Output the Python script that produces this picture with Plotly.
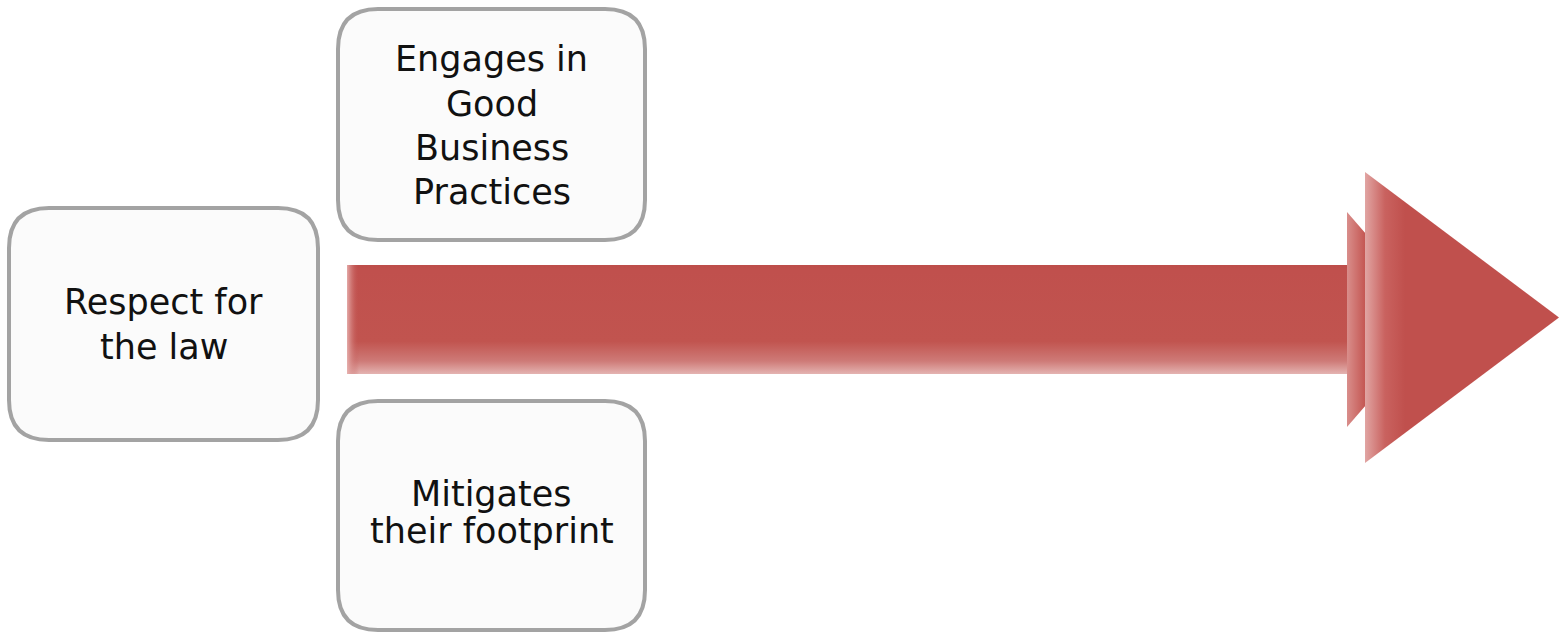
import plotly.graph_objects as go

# ---- content ----
box_lines = [
    ["Respect for", "the law"],
    ["Engages in", "Good", "Business", "Practices"],
    ["Mitigates", "their footprint"],
]

# ---- layout geometry (pixel space, y downward) ----
W, H = 1559, 633
boxes = [  # x0, y0, x1, y1
    (9, 208, 318, 440),
    (338, 9, 645, 240),
    (338, 401, 645, 630),
]
first_baseline = [315, 72, 507]
line_gap = [45, 44.3, 37]
RADIUS = 40
FONT_SIZE = 35
shaft = (347, 265, 1352, 374)
small_head = (1347, 212, 1440, 427)   # left x, top y, tip x, bottom y
big_head = (1365, 172, 1559, 463)

RED = "#C0504D"
BOX_FILL = "#FBFBFB"
BOX_LINE = "#A3A3A3"


def rounded_rect(x0, y0, x1, y1, r):
    return (f"M {x0+r},{y0} L {x1-r},{y0} Q {x1},{y0} {x1},{y0+r} "
            f"L {x1},{y1-r} Q {x1},{y1} {x1-r},{y1} L {x0+r},{y1} "
            f"Q {x0},{y1} {x0},{y1-r} L {x0},{y0+r} Q {x0},{y0} {x0+r},{y0} Z")


fig = go.Figure()

# arrow shaft with fading bottom edge
sx0, sy0, sx1, sy1 = shaft
fig.add_trace(go.Scatter(
    x=[sx0, sx1, sx1, sx0, sx0], y=[sy0, sy0, sy1, sy1, sy0],
    mode="lines", line=dict(width=0), fill="toself",
    fillgradient=dict(type="vertical", start=sy0, stop=sy1,
                      colorscale=[[0, "#BD4D4A"], [0.05, "#C0504D"], [0.7, "#C1544F"],
                                  [0.88, "#CE7A77"], [1, "#E4B3B1"]]),
    hoverinfo="skip", showlegend=False))
# light left edge of shaft
fig.add_trace(go.Scatter(
    x=[sx0, sx0 + 12, sx0 + 12, sx0, sx0], y=[sy0, sy0, sy1, sy1, sy0],
    mode="lines", line=dict(width=0), fill="toself",
    fillgradient=dict(type="horizontal", start=sx0, stop=sx0 + 12,
                      colorscale=[[0, "rgba(232,180,178,0.9)"], [1, "rgba(192,80,77,0)"]]),
    hoverinfo="skip", showlegend=False))

# small (rear) arrowhead
hx0, hy0, hx1, hy1 = small_head
hm = (hy0 + hy1) / 2
fig.add_trace(go.Scatter(
    x=[hx0, hx1, hx0, hx0], y=[hy0, hm, hy1, hy0],
    mode="lines", line=dict(width=0), fill="toself",
    fillgradient=dict(type="horizontal", start=hx0, stop=hx0 + 18,
                      colorscale=[[0, "#D98E8B"], [1, "#C45753"]]),
    hoverinfo="skip", showlegend=False))

# big arrowhead
bx0, by0, bx1, by1 = big_head
bm = (by0 + by1) / 2
fig.add_trace(go.Scatter(
    x=[bx0, bx1, bx0, bx0], y=[by0, bm, by1, by0],
    mode="lines", line=dict(width=0), fill="toself",
    fillgradient=dict(type="horizontal", start=bx0, stop=bx0 + 40,
                      colorscale=[[0, "#E1A5A3"], [0.5, "#C9625F"], [1, "#C0504D"]]),
    hoverinfo="skip", showlegend=False))

shapes = []
for (x0, y0, x1, y1) in boxes:
    shapes.append(dict(type="path", path=rounded_rect(x0, y0, x1, y1, RADIUS),
                       xref="x", yref="y", fillcolor=BOX_FILL,
                       line=dict(color=BOX_LINE, width=4), layer="above"))

annotations = []
for (x0, y0, x1, y1), lines, b0, gap in zip(boxes, box_lines, first_baseline, line_gap):
    for i, line in enumerate(lines):
        baseline = b0 + i * gap
        annotations.append(dict(x=(x0 + x1) / 2, y=baseline - 0.36 * FONT_SIZE,
                                xref="x", yref="y", yanchor="middle",
                                text=line, showarrow=False,
                                font=dict(family="DejaVu Sans ExtraLight, DejaVu Sans",
                                          size=FONT_SIZE, color="#111111"),
                                align="center"))

fig.update_layout(
    width=W, height=H,
    margin=dict(l=0, r=0, t=0, b=0),
    paper_bgcolor="white", plot_bgcolor="white",
    xaxis=dict(range=[0, W], visible=False, fixedrange=True),
    yaxis=dict(range=[H, 0], visible=False, fixedrange=True),
    shapes=shapes, annotations=annotations,
    showlegend=False,
)

fig.write_html("out.html", config={"displayModeBar": False},
               post_script="document.body.style.margin='0';document.body.style.overflow='hidden';")
